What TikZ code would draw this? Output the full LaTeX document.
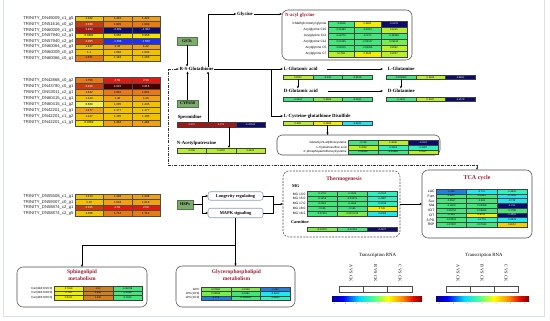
\documentclass[tikz,border=0pt]{standalone}
\usepackage{fontspec}
\setmainfont{Liberation Serif}
\setsansfont{Liberation Sans}
\usetikzlibrary{arrows.meta}
\definecolor{hyellow}{HTML}{F2E400}
\definecolor{hlyellow}{HTML}{F2F050}
\definecolor{hgold}{HTML}{F2C200}
\definecolor{horange}{HTML}{F0A010}
\definecolor{hdorange}{HTML}{E87A10}
\definecolor{hred}{HTML}{C83A10}
\definecolor{hred2}{HTML}{E01A10}
\definecolor{hdred}{HTML}{A51515}
\definecolor{hmaroon}{HTML}{4A0000}
\definecolor{cnavy}{HTML}{0C0C6E}
\definecolor{cblue}{HTML}{2030F0}
\definecolor{cmblue}{HTML}{2080E0}
\definecolor{ccyan}{HTML}{20E6F0}
\definecolor{ctgreen}{HTML}{30F0BE}
\definecolor{cgreen}{HTML}{42E67A}
\definecolor{clgreen}{HTML}{78EE4A}
\definecolor{cygreen}{HTML}{B6F02A}
\definecolor{cyellow}{HTML}{EEF000}
\definecolor{cgoldy}{HTML}{EED200}
\definecolor{corng}{HTML}{D2801E}
\definecolor{enzgreen}{HTML}{7DAA6E}
\definecolor{enzdark}{HTML}{4E7A43}
\definecolor{titred}{HTML}{9E1B32}
\definecolor{sigblue}{HTML}{8A9CC0}
\definecolor{framec}{HTML}{D8E0EA}
\pgfdeclarehorizontalshading{jetbar}{100bp}{rgb(0bp)=(0,0,0.55); rgb(25bp)=(0,0,0.55); rgb(31bp)=(0,0,1); rgb(40bp)=(0,0.85,1); rgb(48bp)=(0.3,1,0.6); rgb(56bp)=(1,1,0); rgb(64bp)=(1,0.55,0); rgb(70bp)=(0.9,0.05,0); rgb(75bp)=(0.5,0,0); rgb(100bp)=(0.5,0,0)}
\newcommand\hrow[6]{%
  \foreach \cellc/\cellv/\cellt [count=\celli] in {#6}{%
    \node[hcell, fill=\cellc, text=\cellt, minimum width=#4pt, minimum height=#5pt] (#1-\celli) at ({#2+(\celli-0.5)*#4},{#3+0.5*#5}) {\cellv};
  }}
\newcommand\lrow[7]{%
  \node[rowlab] (#1-l) at ({#2-1.5},{#3+0.5*#5}) {#6};
  \hrow{#1}{#2}{#3}{#4}{#5}{#7}}
\begin{document}
\begin{tikzpicture}[x=1pt,y=-1pt,
  every node/.style={inner sep=0pt, outer sep=0pt},
  arr/.style={-{Stealth[length=2.6pt,width=2.2pt]}, line width=0.45pt},
  ln/.style={line width=0.45pt},
  hcell/.style={draw=black!70, line width=0.25pt, font=\sffamily\fontsize{2.9}{3}\selectfont},
  rowlab/.style={anchor=east, font=\sffamily\fontsize{4.2}{5}\selectfont, text=black!85},
  met/.style={font=\bfseries\fontsize{4.8}{5.5}\selectfont, inner sep=0.8pt},
  enz/.style={draw=enzdark, fill=enzgreen, line width=0.4pt, font=\bfseries\fontsize{4.2}{5}\selectfont, minimum height=8pt},
  ttl/.style={font=\bfseries\fontsize{5.5}{7}\selectfont, text=titred, align=center},
  pbox/.style={draw=black!70, line width=0.55pt, rounded corners=6pt},
  sig/.style={draw=sigblue, line width=0.55pt, rounded corners=2.5pt, fill=white, font=\bfseries\fontsize{4.4}{5}\selectfont, minimum width=55pt, minimum height=8.5pt},
  ddash/.style={line width=0.5pt, dash pattern=on 3pt off 1.2pt on 0.8pt off 1.2pt, color=black!80},
]
\useasboundingbox (0,0) rectangle (550,321);
\fill[white] (0,0) rectangle (550,321);
\draw[framec, line width=0.8pt] (3,-2) rectangle (544.5,316.5);

% gene heatmap 1
\lrow{ha1}{75}{16}{28.33}{5.6}{TRINITY\_DN49009\_c1\_g5}{hgold/1.102/black,horange/1.422/black,horange/1.422/black}
\lrow{ha2}{75}{21.6}{28.33}{5.6}{TRINITY\_DN51616\_c0\_g2}{hred/2.039/white,hdorange/1.909/black,hdorange/1.909/black}
\lrow{ha3}{75}{27.2}{28.33}{5.6}{TRINITY\_DN60009\_c1\_g3}{hdred/2.944/white,cnavy/-4.302/white,cnavy/-4.302/white}
\lrow{ha4}{75}{32.8}{28.33}{5.6}{TRINITY\_DN57940\_c2\_g1}{hyellow/0.9882/black,hyellow/0.958/black,hyellow/0.958/black}
\lrow{ha5}{75}{38.4}{28.33}{5.6}{TRINITY\_DN57940\_c2\_g4}{hred/2.085/white,cblue/-1.566/white,cblue/-1.566/white}
\lrow{ha6}{75}{44}{28.33}{5.6}{TRINITY\_DN60064\_c0\_g3}{hgold/1.227/black,horange/1.42/black,horange/1.42/black}
\lrow{ha7}{75}{49.6}{28.33}{5.6}{TRINITY\_DN60009\_c0\_g3}{hgold/1.1/black,hgold/1.098/black,hgold/1.098/black}
\lrow{ha8}{75}{55.2}{28.33}{5.6}{TRINITY\_DN60066\_c0\_g1}{hdorange/1.871/black,hgold/1.193/black,hgold/1.193/black}
% gene heatmap 2
\lrow{hb1}{75}{77}{28.33}{6.1}{TRINITY\_DN42868\_c0\_g2}{hdorange/1.756/black,hred2/2.59/white,hred2/2.59/white}
\lrow{hb2}{75}{83.1}{28.33}{6.1}{TRINITY\_DN43780\_c0\_g1}{hred/2.159/white,hmaroon/3.616/white,hmaroon/3.616/white}
\lrow{hb3}{75}{89.2}{28.33}{6.1}{TRINITY\_DN53011\_c2\_g1}{horange/1.642/black,hdorange/1.881/black,hdorange/1.881/black}
\lrow{hb4}{75}{95.3}{28.33}{6.1}{TRINITY\_DN60415\_c1\_g1}{hgold/1.123/black,horange/1.46/black,horange/1.46/black}
\lrow{hb5}{75}{101.4}{28.33}{6.1}{TRINITY\_DN60415\_c1\_g2}{hlyellow/0.669/black,hgold/1.235/black,hgold/1.235/black}
\lrow{hb6}{75}{107.5}{28.33}{6.1}{TRINITY\_DN42201\_c1\_g1}{horange/1.477/black,hgold/1.177/black,hgold/1.177/black}
\lrow{hb7}{75}{113.6}{28.33}{6.1}{TRINITY\_DN42201\_c1\_g2}{hgold/1.127/black,hgold/1.185/black,hgold/1.185/black}
\lrow{hb8}{75}{119.7}{28.33}{6.1}{TRINITY\_DN42201\_c1\_g3}{hyellow/0.9359/black,horange/1.484/black,horange/1.484/black}
% gene heatmap 3
\lrow{hc1}{75}{194}{28.33}{5.5}{TRINITY\_DN55508\_c1\_g1}{hgold/1.214/black,horange/1.438/black,horange/1.438/black}
\lrow{hc2}{75}{199.5}{28.33}{5.5}{TRINITY\_DN59307\_c0\_g1}{hgold/1.32/black,horange/1.618/black,horange/1.618/black}
\lrow{hc3}{75}{205}{28.33}{5.5}{TRINITY\_DN58874\_c2\_g1}{hred/2.105/white,hred2/2.69/white,hred2/2.69/white}
\lrow{hc4}{75}{210.5}{28.33}{5.5}{TRINITY\_DN58874\_c2\_g5}{hgold/1.356/black,hdorange/1.714/black,hdorange/1.714/black}

% enzymes
\node[enz, minimum width=20pt] (gst) at (187,41) {GSTs};
\node[enz, minimum width=21pt, minimum height=7.5pt] (cyp) at (187.5,103.5) {CYP450};
\node[enz, minimum width=16pt, minimum height=9pt] (hsp) at (185,204.5) {HSPs};

% metabolites
\node[met] (rsg) at (196.5,69) {R-S-Glutathione};
\node[met] (gly) at (245,14) {Glycine};
\node[met, anchor=west] (lglu) at (283,69) {L-Glutamic acid};
\node[met, anchor=west] (lgln) at (387,69) {L-Glutamine};
\node[met, anchor=west] (dglu) at (283,91) {D-Glutamic acid};
\node[met, anchor=west] (dgln) at (387,91) {D-Glutamine};
\node[met, anchor=west] (lcys) at (283,116) {L-Cysteine-glutathione Disulfide};
\node[met, anchor=west] (spd) at (177,117.5) {Spermidine};
\node[met, anchor=west] (nap) at (176,143) {N-Acetylputrescine};

\tikzset{hcell/.style={draw=black!75, line width=0.25pt, font=\sffamily\fontsize{2.5}{3}\selectfont}}
\hrow{blglu}{283}{75}{29.67}{4.5}{cygreen/0.2002/black,cgreen/-0.218/black,cgreen/-0.3618/black}
\hrow{bdglu}{283}{97}{29.67}{4.5}{cgreen/-0.0324/black,clgreen/0.3604/black,cgreen/-0.2941/black}
\hrow{blgln}{386}{75}{29.67}{4.5}{cgreen/-0.200894/black,cygreen/0.3663/black,cnavy/-3.8881/white}
\hrow{bdgln}{386}{97}{29.67}{4.5}{cgreen/-0.1218/black,cygreen/0.2267/black,cnavy/-4.6578/white}
\hrow{blcys}{283}{121}{29.67}{4.5}{cygreen/0.339/black,cyellow/0.6829/black,ccyan/-0.6241/black}
\hrow{bspd}{177}{122}{29.33}{5}{hdred/2.974/white,hdred/3.279/white,cnavy/-0.40542/white}
\hrow{bnap}{177}{148}{29.33}{5}{cygreen/0.209/black,cygreen/0.4453/black,cygreen/0.4525/black}

% N-acyl glycine box
\node[pbox, minimum width=130pt, minimum height=50pt] (nacyl) at (347,35) {};
\node[ttl, anchor=west, font=\bfseries\fontsize{4.9}{5.5}\selectfont] (nacylt) at (285,15.5) {N-acyl glycine};
\tikzset{rowlab/.style={anchor=east, font=\sffamily\fontsize{3.2}{3.6}\selectfont}}
\lrow{na1}{328}{21}{26.33}{6}{3-Methylcrotonyl glycine}{cgreen/-0.2998/black,cyellow/0.9952/black,cnavy/-0.5176/white}
\lrow{na2}{328}{27}{26.33}{6}{Acylglycine C10}{cgreen/0.04464/black,cgreen/-0.2613/black,cygreen/0.1915/black}
\lrow{na3}{328}{33}{26.33}{6}{Acylglycine C11}{cgreen/0.08776/black,cgreen/-0.1171/black,cgreen/-0.08158/black}
\lrow{na4}{328}{39}{26.33}{6}{Acylglycine C12}{cgreen/0.01035/black,cgreen/-0.09137/black,clgreen/0.09612/black}
\lrow{na5}{328}{45}{26.33}{6}{Acylglycine C5}{cgreen/0.06215/black,cgreen/-0.02265/black,cygreen/0.2092/black}
\lrow{na6}{328}{51}{26.33}{6}{Acylglycine C7}{cygreen/0.1798/black,cyellow/0.6548/black,cygreen/0.2227/black}

% cysteine box
\node[pbox, rounded corners=5pt, minimum width=163pt, minimum height=20pt] (cysbox) at (358.5,145) {};
\tikzset{rowlab/.style={anchor=east, font=\sffamily\fontsize{3}{3.4}\selectfont}}
\lrow{cy1}{348}{140.5}{30}{4.6}{Glutamyl-S-allylthiocysteine}{cgreen/-0.129/black,cygreen/0.4608/black,cnavy/-1.0047/white}
\lrow{cy2}{348}{145.1}{30}{4.6}{L-Cysteinesulfinic acid}{cygreen/0.4082/black,ctgreen/-0.3604/black,ctgreen/-0.3287/black}
\lrow{cy3}{348}{149.7}{30}{4.6}{4'-phosphopantothenoylcysteine}{cgreen/0.02099/black,cgreen/-0.09986/black,cygreen/0.1527/black}

% top connectors
\draw[arr] (gst) -- (gst |- rsg.north);
\draw[arr] (cyp) -- (cyp |- rsg.south);
\coordinate (spup) at (208,122);
\draw[arr] (spup) -- (spup |- rsg.south);
\draw[arr] (spup |- rsg.north) |- (gly.west);
\coordinate (spdn) at (229,127);
\draw[arr] (spdn) -- (spdn |- bnap-2.north);
\draw[arr] (gly.east) -- (gly.east -| nacyl.west);
\draw[arr] (rsg.east) -- (lglu.west);
\coordinate (cysbr) at (271,69);
\draw[arr] (cysbr) |- (lcys.west);
\draw[arr] ([xshift=9pt]lglu.east) -- ([xshift=-4pt]lgln.west);
\draw[arr] ([xshift=9pt]dglu.east) -- ([xshift=-4pt]dgln.west);
\draw[arr] (blglu-1.south) -- (blglu-1.south |- dglu.north);
\draw[arr] (blgln-1.south) -- (blgln-1.south |- dgln.north);
\draw[arr] (blcys-2.south) -- (blcys-2.south |- cysbox.north);

% thermogenesis
\node[draw=black!70, line width=0.55pt, dash pattern=on 2pt off 1.2pt, rounded corners=6pt, minimum width=117pt, minimum height=66pt] (thermo) at (341.5,204) {};
\node[ttl] (thermot) at (344,179) {Thermogenesis};
\node[font=\bfseries\fontsize{4.3}{5}\selectfont, anchor=west] (mgl) at (292,186) {MG};
\tikzset{rowlab/.style={anchor=east, font=\sffamily\fontsize{3.3}{3.7}\selectfont}}
\lrow{mg1}{307}{191.5}{30}{4.9}{MG 13:0}{cgreen/-0.1701/black,cgreen/-0.1645/black,ctgreen/-0.0642/black}
\lrow{mg2}{307}{196.4}{30}{4.9}{MG 15:0}{cgreen/-0.1216/black,cgreen/-0.04079/black,ctgreen/-0.4887/black}
\lrow{mg3}{307}{201.3}{30}{4.9}{MG 17:0}{cgreen/-0.2801/black,cgreen/-0.1498/black,ctgreen/-0.5248/black}
\lrow{mg4}{307}{206.2}{30}{4.9}{MG 18:0}{cgreen/-0.155/black,cgreen/-0.166/black,cyellow/0.726/black}
\lrow{mg5}{307}{211.1}{30}{4.9}{MG 18:2}{cgreen/-0.07301/black,clgreen/-0.0001213/black,ccyan/-0.6096/black}
\node[font=\bfseries\fontsize{4.3}{5}\selectfont, anchor=west] (carl) at (291,222) {Carnitine};
\hrow{car}{307}{227}{30}{4.5}{clgreen/-0.03075/black,cgreen/-0.02204/black,cnavy/-0.4127/white}

% TCA
\node[pbox, minimum width=110pt, minimum height=68pt] (tca) at (477,204) {};
\node[ttl, font=\bfseries\fontsize{6}{7}\selectfont] (tcat) at (477,178.5) {TCA cycle};
\tikzset{rowlab/.style={anchor=east, font=\sffamily\fontsize{3.4}{3.8}\selectfont}}
\lrow{tc1}{436}{189}{30.33}{4.75}{LAC}{cmblue/-1.246/black,ccyan/-0.711/black,ctgreen/-0.3818/black}
\lrow{tc2}{436}{193.75}{30.33}{4.75}{Fum}{cgreen/-0.3857/black,cgreen/-0.1853/black,ccyan/-0.7415/black}
\lrow{tc3}{436}{198.5}{30.33}{4.75}{Suc}{cgreen/-0.2697/black,cgreen/-0.263/black,ccyan/-0.718/black}
\lrow{tc4}{436}{203.25}{30.33}{4.75}{Mal}{cgreen/-0.1608/black,cgreen/-0.04698/black,cnavy/-1.721/white}
\lrow{tc5}{436}{208}{30.33}{4.75}{ICIT}{cgreen/-0.05752/black,cgreen/-0.09829/black,cgreen/-0.1788/black}
\lrow{tc6}{436}{212.75}{30.33}{4.75}{CIT}{cgreen/-0.324/black,cyellow/0.6752/black,cnavy/-1.4415/white}
\lrow{tc7}{436}{217.5}{30.33}{4.75}{3-PG}{cgreen/-0.03553/black,ctgreen/-0.2776/black,ccyan/-0.5878/black}
\lrow{tc8}{436}{222.25}{30.33}{4.75}{R5P}{cgreen/-0.07387/black,cgreen/-0.07244/black,cgoldy/0.9023/black}
\draw[arr] (thermo.east) -- (tca.west);

% signalling
\node[sig] (lon) at (235.5,196) {Longevity regulating};
\node[sig, minimum height=9.5pt] (mapk) at (235.5,213) {MAPK signaling};
\coordinate (hsb) at (202,204.5);
\draw[ln] (hsp.east) -- (hsb);
\draw[ln] (hsb |- lon.west) -- (hsb |- mapk.west);
\draw[arr] (hsb |- lon.west) -- (lon.west);
\draw[arr] (hsb |- mapk.west) -- (mapk.west);
\coordinate (lmb) at (273,204);
\draw[ln] (lon.east) -- (lon.east -| lmb) -- (mapk.east -| lmb) -- (mapk.east);
\draw[arr] (lmb) -- (lmb -| thermo.west);

% lipid boxes
\node[pbox, minimum width=130pt, minimum height=40pt] (sph) at (82,287) {};
\node[ttl] (spht) at (82,275.5) {Sphingolipid\\metabolism};
\tikzset{rowlab/.style={anchor=east, font=\sffamily\fontsize{3}{3.4}\selectfont}}
\lrow{sp1}{54}{286}{29.33}{4.67}{Cer(d18:0/16:0)}{cyellow/0.7918/black,corng/1.53/black,cgreen/-0.06738/black}
\lrow{sp2}{54}{290.67}{29.33}{4.67}{Cer(d18:0/18:0)}{cyellow/0.729/black,corng/1.639/black,cgreen/-0.2048/black}
\lrow{sp3}{54}{295.33}{29.33}{4.67}{Cer(d18:0/20:0)}{cyellow/0.8191/black,corng/1.346/black,cgreen/-0.2242/black}
\node[pbox, minimum width=119pt, minimum height=41pt] (gph) at (235.5,286.5) {};
\node[ttl] (gpht) at (236.5,275.5) {Glycerophospholipid\\metabolism};
\lrow{gp1}{201}{287}{29.67}{4.4}{GPC}{clgreen/0.07981/black,clgreen/-0.0108/black,cmblue/-1.032/black}
\lrow{gp2}{201}{291.4}{29.67}{4.4}{LPC(18:0)}{clgreen/0.03592/black,cgreen/-0.1991/black,ccyan/-0.6302/black}
\lrow{gp3}{201}{295.8}{29.67}{4.4}{LPC(16:0)}{cmblue/-1.273/black,cgreen/-0.006404/black,ctgreen/-0.4985/black}
\draw[arr] (mapk.south) -- (gph.north);
\coordinate (brs) at (235.5,245);
\draw[arr] (brs) -| (sph.north);

% dash-dot feedback line
\coordinate (ddc) at (168,165);
\draw[ddash, {Stealth[length=2.6pt,width=2.2pt]}-{Stealth[length=2.6pt,width=2.2pt]}] (rsg.west) -- (rsg.west -| ddc) -- (ddc) -| (tca.north);

% transcription legends
\node[font=\fontsize{4.8}{5.5}\selectfont] (tr1) at (377.5,255) {Transcription RNA};
\node[font=\fontsize{4.8}{5.5}\selectfont] (tr2) at (484,255) {Transcription RNA};
\node[rotate=-90, font=\fontsize{4.3}{5}\selectfont] (t1a) at (351,273) {A VS CK};
\node[rotate=-90, font=\fontsize{4.3}{5}\selectfont] (t1b) at (375.5,273) {B VS CK};
\node[rotate=-90, font=\fontsize{4.3}{5}\selectfont] (t1c) at (400,273) {C VS CK};
\node[rotate=-90, font=\fontsize{4.3}{5}\selectfont] (t2a) at (458,273) {A VS CK};
\node[rotate=-90, font=\fontsize{4.3}{5}\selectfont] (t2b) at (482,273) {B VS CK};
\node[rotate=-90, font=\fontsize{4.3}{5}\selectfont] (t2c) at (506,273) {C VS CK};
\tikzset{hcell/.style={draw=black!70, line width=0.4pt}}
\hrow{tb1}{339}{286}{24.33}{6}{white//black,white//black,white//black}
\hrow{tb2}{446}{286}{24}{6}{white//black,white//black,white//black}
\shade[shading=jetbar] (332,296) rectangle (422,301);
\shade[shading=jetbar] (436,296) rectangle (529,301);
\foreach \tk [count=\k] in {-4,-3,-2,-1,0,1,2,3}
  \node[font=\sffamily\fontsize{1.8}{2}\selectfont, text=black!70] (cba\k) at ({334+(\k-1)*11.2},304) {\tk};
\foreach \tk [count=\k] in {-3,-2,-1,0,1,2,3}
  \node[font=\sffamily\fontsize{1.8}{2}\selectfont, text=black!70] (cbb\k) at ({439+(\k-1)*14.3},304) {\tk};
\end{tikzpicture}
\end{document}
